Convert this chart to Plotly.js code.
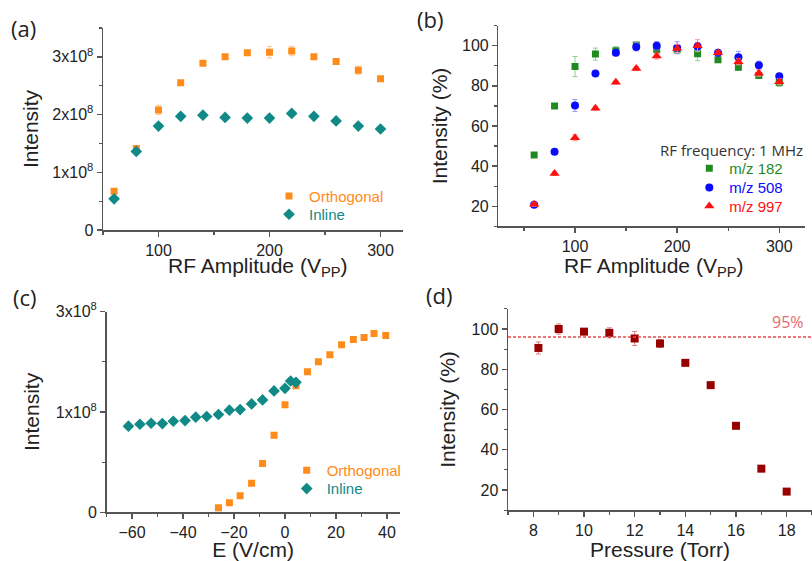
<!DOCTYPE html>
<html>
<head>
<meta charset="utf-8">
<script src="https://cdn.plot.ly/plotly-3.0.1.min.js"></script>
<style>html,body{margin:0;padding:0;background:#fff;}#chart{width:812px;height:561px;}</style>
</head>
<body>
<div id="chart"></div>
<script>
// ---- Panel (a): intensity vs RF amplitude ----
const rfAmp = [60, 80, 100, 120, 140, 160, 180, 200, 220, 240, 260, 280, 300];
const aOrthogonal = [0.67e8, 1.41e8, 2.08e8, 2.55e8, 2.89e8, 3.00e8, 3.07e8, 3.08e8, 3.10e8, 3.00e8, 2.92e8, 2.77e8, 2.62e8];
const aOrthogonalErr = [0.02e8, 0.02e8, 0.08e8, 0.03e8, 0.02e8, 0.04e8, 0.04e8, 0.10e8, 0.08e8, 0.02e8, 0.05e8, 0.07e8, 0.02e8];
const aInline = [0.54e8, 1.36e8, 1.80e8, 1.97e8, 1.99e8, 1.95e8, 1.94e8, 1.94e8, 2.02e8, 1.97e8, 1.89e8, 1.80e8, 1.75e8];

// ---- Panel (b): normalised intensity vs RF amplitude (1 MHz) ----
const bMz182 = [45.5, 70.0, 89.6, 95.8, 97.5, 100.3, 98.0, 98.0, 96.0, 93.0, 89.3, 85.2, 81.7];
const bMz182Err = [1, 1, 5, 3, 2, 1, 2, 2, 3.5, 1, 1.5, 1.5, 2];
const bMz508 = [20.8, 47.2, 70.2, 86.2, 96.5, 99.4, 100.0, 99.0, 99.6, 96.5, 94.2, 90.3, 84.8];
const bMz508Err = [1, 1, 3, 1, 1.5, 2, 2, 3, 2, 1, 3, 2, 1];
const bMz997 = [21.0, 36.4, 54.1, 68.9, 81.8, 88.6, 94.8, 98.6, 100.0, 96.5, 92.0, 86.3, 82.0];
const bMz997Err = [1, 1, 1.5, 1, 1, 1, 1.5, 2, 3, 1, 1.5, 1.5, 1.5];

// ---- Panel (c): intensity vs field E ----
const cEOrthogonal = [-26.1, -21.8, -17.6, -13.1, -8.8, -4.3, 0, 4.3, 8.8, 13.1, 17.6, 22.2, 26.8, 31.0, 34.9, 39.5];
const cOrthogonal = [0.046e8, 0.096e8, 0.166e8, 0.29e8, 0.487e8, 0.768e8, 1.07e8, 1.26e8, 1.40e8, 1.50e8, 1.57e8, 1.67e8, 1.72e8, 1.74e8, 1.78e8, 1.76e8];
const cEInline = [-61.4, -56.9, -52.5, -48.1, -43.8, -39.2, -35.0, -30.7, -26.1, -21.8, -17.6, -13.1, -8.8, -4.3, 0, 2.2, 4.3];
const cInline = [0.858e8, 0.877e8, 0.887e8, 0.884e8, 0.907e8, 0.914e8, 0.947e8, 0.954e8, 0.974e8, 1.017e8, 1.023e8, 1.079e8, 1.119e8, 1.209e8, 1.235e8, 1.308e8, 1.295e8];
const cTickVals = [0, 1e8, 2e8];
const cTickText = ['0', '1x10<sup>8</sup>', '3x10<sup>8</sup>'];

// ---- Panel (d): intensity vs pressure ----
const pressure = [8.2, 9, 10, 11, 12, 13, 14, 15, 16, 17, 18];
const dIntensity = [90.6, 100.0, 98.7, 98.1, 95.3, 92.8, 83.2, 72.1, 51.9, 30.6, 19.2];
const dIntensityErr = [3, 2.5, 1, 2.5, 3.5, 2, 1.5, 1.5, 0.8, 0.8, 0.8];
const threshold = 96;
const thresholdLabel = '95%';

// ---- tick labels ----
const aTickVals = [0, 1e8, 2e8, 3e8];
const aTickText = ['0', '1x10<sup>8</sup>', '2x10<sup>8</sup>', '3x10<sup>8</sup>'];

const ORANGE = '#ff8c1a', TEAL = '#118a87', GREEN = '#1f8a1f', BLUE = '#0a0aff', RED = '#ff1010', DARKRED = '#990000';
const ARIAL = 'Liberation Sans, Arial, sans-serif';
const SANS2 = 'Open Sans, sans-serif';

function errs(arr, color) {
  return {type: 'data', array: arr, visible: true, color: color, thickness: 1, width: 2.5};
}
function lname(text, color) { return '<span style="color:' + color + '">' + text + '</span>'; }

const traces = [
  {x: rfAmp, y: aOrthogonal, xaxis: 'x', yaxis: 'y', mode: 'markers', type: 'scatter',
   name: lname('Orthogonal', ORANGE), legend: 'legend',
   marker: {symbol: 'square', size: 7, color: ORANGE}, error_y: errs(aOrthogonalErr, '#ffc48a')},
  {x: rfAmp, y: aInline, xaxis: 'x', yaxis: 'y', mode: 'markers', type: 'scatter',
   name: lname('Inline', TEAL), legend: 'legend2',
   marker: {symbol: 'diamond', size: 9, color: TEAL}},

  {x: rfAmp, y: bMz182, xaxis: 'x2', yaxis: 'y2', mode: 'markers', type: 'scatter',
   name: lname('m/z 182', GREEN), legend: 'legend3',
   marker: {symbol: 'square', size: 7, color: GREEN}, error_y: errs(bMz182Err, '#8fcf8f')},
  {x: rfAmp, y: bMz508, xaxis: 'x2', yaxis: 'y2', mode: 'markers', type: 'scatter',
   name: lname('m/z 508', BLUE), legend: 'legend4',
   marker: {symbol: 'circle', size: 8, color: BLUE}, error_y: errs(bMz508Err, '#9a9aff')},
  {x: rfAmp, y: bMz997, xaxis: 'x2', yaxis: 'y2', mode: 'markers', type: 'scatter',
   name: lname('m/z 997', RED), legend: 'legend5',
   marker: {symbol: 'triangle-up', size: 9, color: RED}, error_y: errs(bMz997Err, '#ff9a9a')},

  {x: cEOrthogonal, y: cOrthogonal, xaxis: 'x3', yaxis: 'y3', mode: 'markers', type: 'scatter',
   name: lname('Orthogonal', ORANGE), legend: 'legend6',
   marker: {symbol: 'square', size: 7, color: ORANGE}},
  {x: cEInline, y: cInline, xaxis: 'x3', yaxis: 'y3', mode: 'markers', type: 'scatter',
   name: lname('Inline', TEAL), legend: 'legend7',
   marker: {symbol: 'diamond', size: 9, color: TEAL}},

  {x: pressure, y: dIntensity, xaxis: 'x4', yaxis: 'y4', mode: 'markers', type: 'scatter',
   showlegend: false, name: 'Pressure',
   marker: {symbol: 'square', size: 8, color: DARKRED}, error_y: errs(dIntensityErr, '#d88080')}
];

const tickFont = {family: ARIAL, size: 16, color: '#222'};
const titleFont = {family: ARIAL, size: 21, color: '#222'};
const minorBase = {ticks: 'outside', ticklen: 3, tickwidth: 1.2, tickcolor: '#555', showgrid: false};
function ax(extra) {
  return Object.assign({
    showline: true, linecolor: '#555', linewidth: 1.5, mirror: false,
    ticks: 'outside', ticklen: 5, tickwidth: 1.5, tickcolor: '#555',
    showgrid: false, zeroline: false, tickfont: tickFont, fixedrange: true
  }, extra);
}
function px(x) { return x / 812; }
function py(y) { return 1 - y / 561; }
function leg(mx, my) {
  return {x: px(mx - 20), y: py(my - 17), xanchor: 'left', yanchor: 'top', bgcolor: 'rgba(0,0,0,0)',
    font: {family: ARIAL, size: 15}, itemwidth: 30, tracegroupgap: 0};
}
function label(text, x, y, font, extra) {
  return Object.assign({text: text, x: px(x), y: py(y), xref: 'paper', yref: 'paper', showarrow: false,
    xanchor: 'center', yanchor: 'middle', font: font}, extra || {});
}
const panelFont = {family: SANS2, size: 22, color: '#222'};

const layout = {
  width: 812, height: 561,
  margin: {l: 0, r: 0, t: 0, b: 0},
  paper_bgcolor: '#fff', plot_bgcolor: 'rgba(0,0,0,0)',
  font: {family: ARIAL, color: '#222'},
  xaxis: ax({domain: [px(103), px(402.7)], range: [50, 320], anchor: 'y', tick0: 0, dtick: 100,
    minor: Object.assign({dtick: 50, tick0: 0}, minorBase)}),
  yaxis: ax({domain: [py(230), py(28)], range: [0, 3.5e8], anchor: 'x',
    tickmode: 'array', tickvals: aTickVals, ticktext: aTickText,
    minor: Object.assign({tickmode: 'array', tickvals: [0.5e8, 1.5e8, 2.5e8, 3.5e8]}, minorBase),
    title: {text: 'Intensity', font: titleFont, standoff: 8}}),

  xaxis2: ax({domain: [px(498.4), px(804.8)], range: [25, 325], anchor: 'y2', tick0: 0, dtick: 100,
    minor: Object.assign({dtick: 50, tick0: 0}, minorBase)}),
  yaxis2: ax({domain: [py(226.4), py(25.6)], range: [10, 110], anchor: 'x2', tick0: 0, dtick: 20,
    minor: Object.assign({dtick: 10, tick0: 0}, minorBase),
    title: {text: 'Intensity (%)', font: titleFont, standoff: 8}}),

  xaxis3: ax({domain: [px(106.5), px(399.75)], range: [-70, 45], anchor: 'y3', tick0: 0, dtick: 20,
    minor: Object.assign({dtick: 10, tick0: 0}, minorBase),
    title: {text: 'E (V/cm)', font: titleFont, standoff: 2}}),
  yaxis3: ax({domain: [py(512.3), py(311.5)], range: [0, 2e8], anchor: 'x3',
    tickmode: 'array', tickvals: cTickVals, ticktext: cTickText,
    minor: Object.assign({tickmode: 'array', tickvals: [0.5e8, 1.5e8]}, minorBase),
    title: {text: 'Intensity', font: titleFont, standoff: 10}}),

  xaxis4: ax({domain: [px(508), px(812)], range: [7, 19], anchor: 'y4', tick0: 0, dtick: 2,
    minor: Object.assign({dtick: 1, tick0: 0}, minorBase),
    title: {text: 'Pressure (Torr)', font: titleFont, standoff: 1}}),
  yaxis4: ax({domain: [py(510.1), py(308.9)], range: [10, 110], anchor: 'x4', tick0: 0, dtick: 20,
    minor: Object.assign({dtick: 10, tick0: 0}, minorBase),
    title: {text: 'Intensity (%)', font: titleFont, standoff: 10}}),

  legend: leg(289, 196.7),
  legend2: leg(289, 215),
  legend3: leg(709.3, 169),
  legend4: leg(709.3, 188.3),
  legend5: leg(709.3, 206.7),
  legend6: leg(306.7, 471),
  legend7: leg(306.7, 489.3),

  shapes: [
    {type: 'line', xref: 'x4 domain', yref: 'y4', x0: 0, x1: 1, y0: threshold, y1: threshold,
     line: {color: '#e84a4a', width: 1.5, dash: '3px,2px'}}
  ],
  annotations: [
    label('(a)', 23, 28, panelFont),
    label('(b)', 430, 19, panelFont),
    label('(c)', 25, 297, panelFont),
    label('(d)', 439, 295, panelFont),
    label('RF Amplitude (V<sub>PP</sub>)', 257, 267, titleFont),
    label('RF Amplitude (V<sub>PP</sub>)', 653, 267, titleFont),
    label('RF frequency: 1 MHz', 805, 150, {family: SANS2, size: 15, color: '#333'}, {xanchor: 'right'}),
    {text: thresholdLabel, x: 1, y: threshold, xref: 'x4 domain', yref: 'y4', xanchor: 'right', yanchor: 'bottom',
     yshift: 2, xshift: -6, showarrow: false, font: {family: SANS2, size: 16, color: '#e86a6a'}}
  ]
};

Plotly.newPlot('chart', traces, layout, {staticPlot: true, displayModeBar: false});
</script>
</body>
</html>
